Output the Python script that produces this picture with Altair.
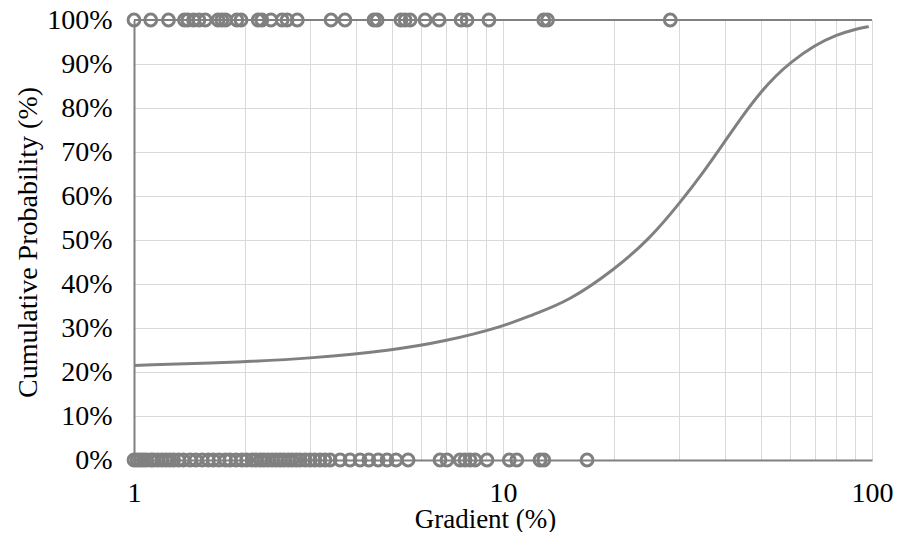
import altair as alt
import pandas as pd

# Observations at 100% (top row of markers)
top_gradient = [1.00, 1.11, 1.24, 1.37, 1.40, 1.45, 1.50, 1.56, 1.69, 1.73, 1.77,
                1.90, 1.95, 2.17, 2.22, 2.35, 2.52, 2.60, 2.77, 3.42, 3.73, 4.47,
                4.56, 5.29, 5.43, 5.60, 6.15, 6.71, 7.70, 7.99, 9.16, 12.9, 13.2, 28.4]

# Observations at 0% (bottom row of markers)
bottom_gradient = [1.00, 1.02, 1.04, 1.06, 1.08, 1.11, 1.13, 1.16, 1.19, 1.22, 1.25,
                   1.28, 1.32, 1.36, 1.42, 1.47, 1.53, 1.59, 1.64, 1.70, 1.77, 1.82,
                   1.89, 1.96, 2.02, 2.09, 2.14, 2.20, 2.25, 2.31, 2.37, 2.43, 2.49,
                   2.55, 2.62, 2.68, 2.75, 2.82, 2.91, 3.00, 3.09, 3.19, 3.29, 3.40,
                   3.62, 3.85, 4.10, 4.33, 4.59, 4.85, 5.13, 5.53, 6.75, 7.05, 7.65,
                   7.89, 8.14, 8.40, 9.05, 10.4, 10.9, 12.6, 12.9, 16.9]

# Fitted cumulative probability curve
curve_gradient = [1, 2, 3, 5, 7, 10, 12, 15, 20, 25, 30, 35, 40, 45, 50, 55, 60,
                  70, 80, 90, 98]
curve_prob = [0.215, 0.223, 0.231, 0.249, 0.270, 0.303, 0.330, 0.360, 0.432,
              0.503, 0.582, 0.655, 0.725, 0.787, 0.837, 0.874, 0.903, 0.943, 0.966,
              0.979, 0.985]

y_ticks = [0, 0.1, 0.2, 0.3, 0.4, 0.5, 0.6, 0.7, 0.8, 0.9, 1.0]
x_grid = [1, 2, 3, 4, 5, 6, 7, 8, 9, 10, 20, 30, 40, 50, 60, 70, 80, 90, 100]

pts = pd.DataFrame({
    "g": top_gradient + bottom_gradient,
    "p": [1.0] * len(top_gradient) + [0.0] * len(bottom_gradient),
})
curve = pd.DataFrame({"g": curve_gradient, "p": curve_prob})

FONT = "'Times New Roman', 'Liberation Serif', serif"
GRAY = "#808080"
FS = 28

xscale = alt.Scale(type="log", domain=[1, 100], nice=False)
yscale = alt.Scale(domain=[0, 1], nice=False)

xaxis = alt.Axis(
    values=x_grid,
    labelExpr="(datum.value == 1 || datum.value == 10 || datum.value == 100) ? datum.value : ''",
    grid=True, gridColor="#d9d9d9", gridWidth=1,
    domain=True, domainColor=GRAY, domainWidth=2,
    ticks=False, labelPadding=19, labelFontSize=FS, labelFont=FONT, labelColor="black",
    title="Gradient (%)", titleFont=FONT, titleFontSize=27, titleFontWeight="normal",
    titleColor="black", titleX=351, titleY=67, titleBaseline="alphabetic", labelFlush=False,
)
yaxis = alt.Axis(
    values=y_ticks, format=".0%",
    grid=True, gridColor="#d9d9d9", gridWidth=1,
    domain=True, domainColor=GRAY, domainWidth=2,
    ticks=False, labelPadding=22, labelFontSize=FS, labelFont=FONT, labelColor="black",
    title="Cumulative Probability (%)", titleFont=FONT, titleFontSize=FS,
    titleFontWeight="normal", titleColor="black", titleX=-106, titleY=222,
    titleBaseline="middle", titleAngle=270,
)

base = alt.Chart(curve)

line = base.mark_line(color=GRAY, strokeWidth=3, interpolate="basis").encode(
    x=alt.X("g:Q", scale=xscale, axis=xaxis),
    y=alt.Y("p:Q", scale=yscale, axis=yaxis),
)

top_rule = alt.Chart(pd.DataFrame({"p": [1.0]})).mark_rule(color=GRAY, strokeWidth=2).encode(
    y=alt.Y("p:Q", scale=yscale),
)

points = alt.Chart(pts).mark_point(
    shape="circle", filled=False, color=GRAY, strokeWidth=3, size=140, clip=False, opacity=1
).encode(
    x=alt.X("g:Q", scale=xscale),
    y=alt.Y("p:Q", scale=yscale),
)

chart = alt.layer(line, top_rule, points).properties(
    width=738, height=440,
    autosize=alt.AutoSizeParams(type="none"),
    padding={"left": 126, "top": 12, "right": 30, "bottom": 72},
).configure_view(stroke=None)

chart.save("out.html", embed_options={"renderer": "svg", "actions": False})
